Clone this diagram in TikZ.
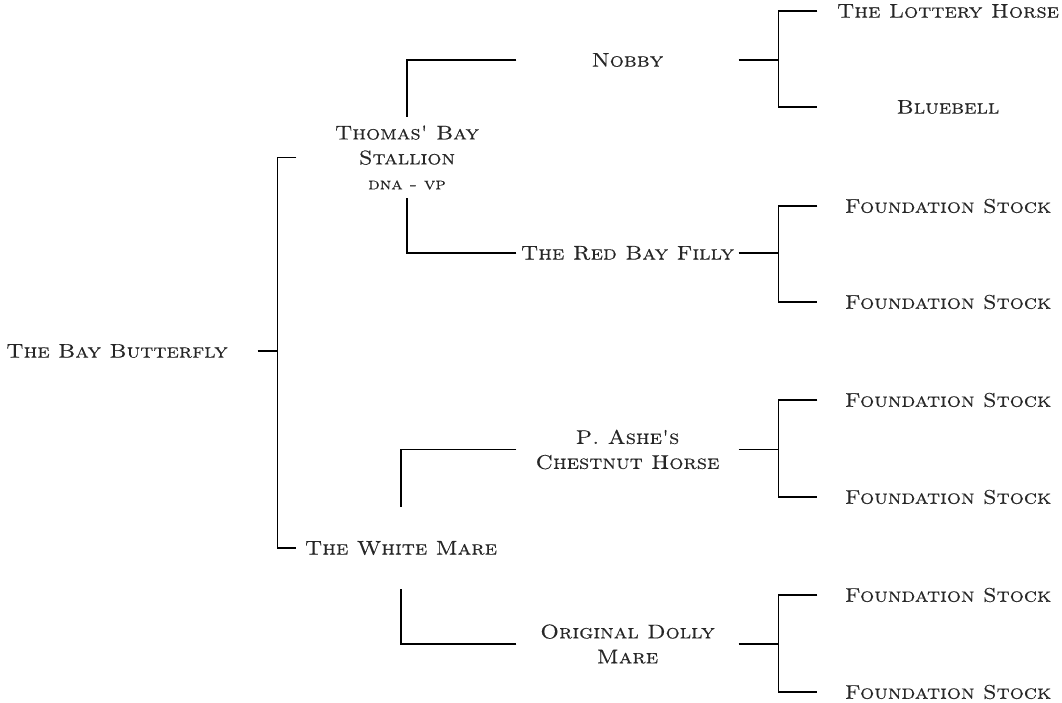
\documentclass[tikz,border=0pt]{standalone}
\usepackage{fontspec}
\newfontfamily\horsefont{lmromancaps10-regular.otf}[FakeStretch=1.12, FakeBold=0.4]
\begin{document}
\begin{tikzpicture}[x=0.02cm, y=-0.02cm, line width=0.7pt,
  horse/.style={font=\horsefont\fontsize{11.3}{14.2}\selectfont, align=center,
    inner sep=0pt, text=black!85},
  col2/.style={horse, minimum width=4.4cm, minimum height=1.6cm},
  col3/.style={horse, minimum width=4.42cm},
  col4/.style={horse, minimum width=5.2cm}]
  \useasboundingbox (0,0) rectangle (1062,703);
  % Foal
  \node[horse, minimum width=5.6cm] (bay) at (117,351) {The Bay Butterfly};
  % Sire and dam
  \node[col2] (thomas) at (407,157.5)
    {Thomas' Bay\\Stallion\\{\fontsize{9.5}{11}\selectfont dna - vp}};
  \node[col2, minimum width=4.16cm] (white) at (401,548) {The White Mare};
  % Grandparents
  \node[col3] (nobby) at (627.5,60) {Nobby};
  \node[col3] (filly) at (627.5,253) {The Red Bay Filly};
  \node[col3] (ashe) at (627.5,449.5) {P. Ashe's\\Chestnut Horse};
  \node[col3] (dolly) at (627.5,644) {Original Dolly\\Mare};
  % Great-grandparents
  \node[col4] (lottery) at (948,11) {The Lottery Horse};
  \node[col4] (bluebell) at (948,107) {Bluebell};
  \foreach \y/\n in {206/fs1, 302/fs2, 400/fs3, 497/fs4, 595/fs5, 692/fs6}
    \node[col4] (\n) at (948,\y) {Foundation Stock};
  % Connectors
  \draw (bay.east) -- ++(20,0) coordinate (bay-fork);
  \draw (thomas.west) -| (bay-fork) |- (white.west);
  \draw (nobby.west) -| (thomas.north);
  \draw (filly.west) -| (thomas.south);
  \draw (ashe.west) -| (white.north);
  \draw (dolly.west) -| (white.south);
  \foreach \p/\a/\b in {nobby/lottery/bluebell, filly/fs1/fs2,
                        ashe/fs3/fs4, dolly/fs5/fs6} {
    \draw (\p.east) -- ++(40,0) coordinate (\p-fork);
    \draw (\a.west) -| (\p-fork) |- (\b.west);
  }
\end{tikzpicture}
\end{document}
